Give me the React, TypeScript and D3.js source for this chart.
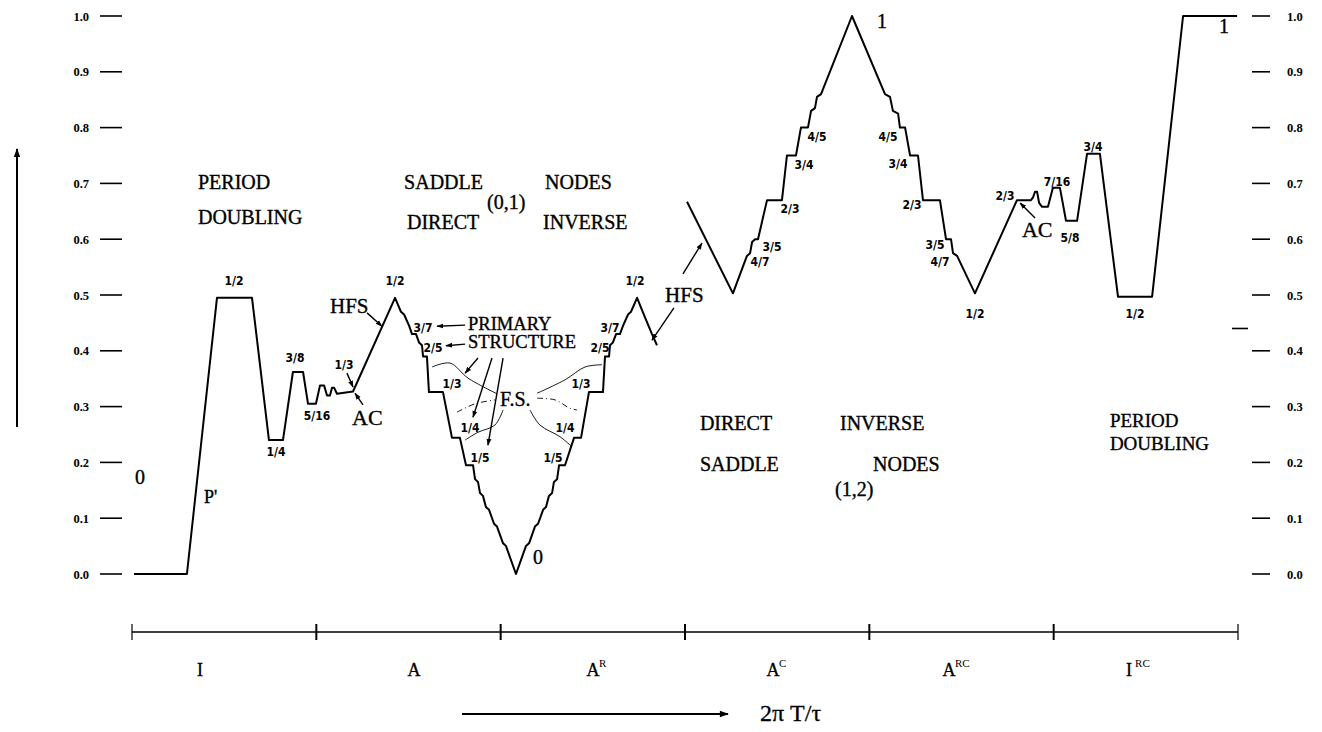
import React from "react";
import * as d3 from "d3";

const W = 1322;
const H = 732;

// Horizontal parameter: 6 regions, 100 units each
const regionBounds = [0, 100, 200, 300, 400, 500, 600];
const regionBase = ["I", "A", "A", "A", "A", "I"];
const regionSup = ["", "", "R", "C", "RC", "RC"];
const regionLabelU = [36.9, 153.0, 250.1, 347.7, 443.2, 540.9];

const yTicks = [0, 0.1, 0.2, 0.3, 0.4, 0.5, 0.6, 0.7, 0.8, 0.9, 1.0];
const yTickLabels = ["0.0", "0.1", "0.2", "0.3", "0.4", "0.5", "0.6", "0.7", "0.8", "0.9", "1.0"];
const extraRightTick = 0.44;

// Curve piece 1: I, A, A^R
const curve1U = [1.1, 29.8, 46.1, 65.1, 74.3, 81.9, 87.3, 92.8, 95.5, 99.8, 102.0, 104.2, 105.8, 107.4, 108.5, 109.6, 111.2, 119.9,
  142.7, 145.9, 147.6, 150.3, 151.9, 154.1, 155.7, 157.3, 157.9, 160.0, 161.1, 168.7, 173.6, 177.9, 181.2, 185.0,
  186.1, 187.7, 188.8, 190.4, 192.0, 193.7, 196.4, 198.0, 201.3, 202.9, 208.3,
  213.7, 215.4, 218.6, 220.3, 223.0, 224.6, 226.2, 227.9, 228.9, 230.6, 231.7, 234.9, 239.8, 243.6, 247.9, 255.5,
  256.6, 258.8, 259.3, 260.9, 262.6, 264.7, 266.4, 269.1, 270.7, 274.0, 278.3, 282.1, 284.8];
const curve1V = [0, 0, 0.495, 0.495, 0.24, 0.24, 0.362, 0.362, 0.305, 0.305, 0.338, 0.338, 0.32, 0.32, 0.334, 0.334, 0.323, 0.327,
  0.495, 0.47, 0.465, 0.445, 0.43, 0.43, 0.415, 0.41, 0.39, 0.39, 0.326, 0.326, 0.244, 0.244, 0.195, 0.195,
  0.17, 0.165, 0.145, 0.14, 0.12, 0.115, 0.09, 0.085, 0.055, 0.05, 0.0,
  0.05, 0.055, 0.085, 0.09, 0.115, 0.12, 0.14, 0.145, 0.165, 0.17, 0.195, 0.195, 0.244, 0.244, 0.326, 0.326,
  0.39, 0.39, 0.41, 0.415, 0.43, 0.43, 0.445, 0.465, 0.47, 0.495, 0.46, 0.43, 0.41];

// Curve piece 2: A^C, A^RC, I^RC
const curve2U = [301.1, 326.0, 333.6, 335.3, 336.4, 338.0, 339.6, 344.5, 352.6, 355.3, 360.2, 362.9, 366.7, 368.4, 370.5, 371.6, 373.8,
  390.6, 408.5, 411.2, 412.8, 415.6, 416.6, 419.4, 422.1, 426.4, 429.1, 438.3, 441.6, 444.3, 445.4, 447.6, 457.3,
  480.1, 487.7, 488.8, 489.9, 491.0, 492.1, 493.7, 496.9, 499.6, 503.4, 506.7, 512.7, 518.1, 525.1, 534.9, 553.4, 570.2, 599.5];
const curve2V = [0.667, 0.503, 0.57, 0.575, 0.595, 0.6, 0.6, 0.67, 0.67, 0.75, 0.75, 0.8, 0.8, 0.83, 0.835, 0.855, 0.86,
  1.0, 0.86, 0.855, 0.83, 0.825, 0.8, 0.8, 0.75, 0.75, 0.67, 0.67, 0.6, 0.6, 0.575, 0.57, 0.503,
  0.67, 0.67, 0.675, 0.685, 0.685, 0.665, 0.658, 0.658, 0.692, 0.692, 0.633, 0.633, 0.753, 0.753, 0.497, 0.497, 1.0, 1.0];

// Small fraction labels
const fracText = ["1/2", "1/4", "3/8", "5/16", "1/3", "1/2", "3/7", "2/5", "1/3", "1/4", "1/5", "1/5", "1/4", "1/3", "2/5", "3/7", "1/2",
  "4/7", "3/5", "2/3", "3/4", "4/5", "4/5", "3/4", "2/3", "3/5", "4/7", "1/2", "2/3", "7/16", "5/8", "3/4", "1/2"];
const fracU = [55.3, 78.1, 88.4, 100.4, 115.0, 142.7, 157.9, 163.3, 173.6, 183.4, 188.8, 228.4, 234.9, 243.6, 253.9, 259.3, 272.9,
  340.7, 347.2, 357.0, 364.6, 371.6, 410.1, 415.6, 423.2, 435.6, 438.3, 457.3, 473.6, 501.8, 508.9, 521.3, 544.1];
const fracV = [0.518, 0.211, 0.380, 0.276, 0.367, 0.518, 0.434, 0.398, 0.333, 0.254, 0.201, 0.201, 0.254, 0.333, 0.398, 0.434, 0.518,
  0.552, 0.579, 0.647, 0.726, 0.776, 0.776, 0.728, 0.655, 0.582, 0.552, 0.459, 0.670, 0.695, 0.595, 0.758, 0.459];

// Large serif labels (start-anchored)
const bigText = ["0", "P'", "HFS", "AC", "0", "HFS", "1", "AC", "1", "F.S.", "PRIMARY", "STRUCTURE"];
const bigU = [1.6, 39.1, 107.4, 119.4, 217.5, 289.2, 404.2, 482.8, 589.7, 199.6, 182.3, 182.3];
const bigV = [0.161, 0.127, 0.468, 0.267, 0.018, 0.487, 0.978, 0.604, 0.970, 0.301, 0.437, 0.405];
const bigSize = [20, 18, 21, 22, 20, 21, 20, 22, 20, 20, 18.5, 18.5];

// Region captions (start-anchored)
const capText = ["PERIOD", "DOUBLING", "SADDLE", "(0,1)", "NODES", "DIRECT", "INVERSE",
  "DIRECT", "INVERSE", "SADDLE", "(1,2)", "NODES", "PERIOD", "DOUBLING"];
const capU = [35.8, 35.8, 147.6, 192.6, 224.1, 149.2, 223.0, 308.1, 384.1, 308.1, 381.4, 402.0, 530.5, 530.5];
const capV = [0.690, 0.627, 0.690, 0.654, 0.690, 0.618, 0.618, 0.258, 0.258, 0.185, 0.140, 0.185, 0.264, 0.222];
const capSize = [20, 20, 20, 20, 20, 20, 20, 20, 20, 20, 20, 20, 19, 19];

// Arrows: from (u,v) to (u,v)
const arrowFromU = [127.5, 116.6, 125.3, 180.7, 180.7, 187.7, 195.3, 201.3, 298.9, 294.0, 489.9];
const arrowFromV = [0.468, 0.360, 0.303, 0.446, 0.412, 0.387, 0.387, 0.387, 0.538, 0.477, 0.638];
const arrowToU = [135.6, 119.9, 121.0, 165.5, 170.3, 180.7, 185.0, 193.1, 309.2, 282.1, 481.8];
const arrowToV = [0.444, 0.335, 0.324, 0.444, 0.409, 0.360, 0.281, 0.231, 0.593, 0.419, 0.665];

// F.S. thin curves
const fsCurvesU = [
  [162.8, 172.5, 182.3, 198.0],
  [176.3, 186.1, 196.9],
  [201.3, 196.9, 187.7, 180.7],
  [255.0, 245.8, 234.9, 219.8],
  [219.8, 229.5, 237.6, 241.4],
  [215.9, 221.3, 232.2, 238.7],
];
const fsCurvesV = [
  [0.371, 0.378, 0.351, 0.323],
  [0.290, 0.305, 0.312],
  [0.294, 0.267, 0.254, 0.240],
  [0.375, 0.371, 0.348, 0.324],
  [0.315, 0.312, 0.297, 0.294],
  [0.294, 0.267, 0.246, 0.228],
];
const fsDashed = [false, true, false, false, true, false];

const SERIF = "'Liberation Serif', 'Times New Roman', serif";
const NARROW = "'Liberation Sans Narrow', 'DejaVu Sans Condensed', 'Arial Narrow', sans-serif";

export default function App() {
  const x = d3.scaleLinear().domain([0, 600]).range([132, 1238]);
  const y = d3.scaleLinear().domain([0, 1]).range([574, 16]);

  const line = d3.line<[number, number]>().x((d) => x(d[0])).y((d) => y(d[1]));
  const smooth = d3.line<[number, number]>().x((d) => x(d[0])).y((d) => y(d[1])).curve(d3.curveCatmullRom.alpha(0.5));

  const p1 = line(curve1U.map((u, i) => [u, curve1V[i]]) as [number, number][]) || "";
  const p2 = line(curve2U.map((u, i) => [u, curve2V[i]]) as [number, number][]) || "";

  const axisY = 632;
  const labelY = 676;
  const arrowY = 714;

  return (
    <svg width={W} height={H} style={{ position: "absolute", left: 0, top: 0, display: "block", background: "#fff" }}>
      <defs>
        <marker id="ah" viewBox="0 0 10 10" refX="9" refY="5" markerWidth="7" markerHeight="7" orient="auto-start-reverse" markerUnits="userSpaceOnUse">
          <path d="M0,1.5 L10,5 L0,8.5 Z" fill="#000" />
        </marker>
        <marker id="ahBig" viewBox="0 0 10 10" refX="9" refY="5" markerWidth="11" markerHeight="9" orient="auto" markerUnits="userSpaceOnUse">
          <path d="M0,1.5 L10,5 L0,8.5 Z" fill="#000" />
        </marker>
      </defs>
      <rect width={W} height={H} fill="#fff" />

      {/* left vertical arrow */}
      <line x1={17} y1={427} x2={17} y2={149} stroke="#000" strokeWidth={2} markerEnd="url(#ahBig)" />

      {/* y ticks left & right */}
      {yTicks.map((t, i) => (
        <g key={"yt" + i}>
          <line x1={100} x2={122} y1={y(t)} y2={y(t)} stroke="#000" strokeWidth={1.6} />
          <text x={89} y={y(t) + 4.5} textAnchor="end" fontFamily={SERIF} fontWeight="bold" fontSize={12.5}>{yTickLabels[i]}</text>
          <line x1={1252} x2={1270} y1={y(t)} y2={y(t)} stroke="#000" strokeWidth={1.6} />
          <text x={1287} y={y(t) + 4.5} textAnchor="start" fontFamily={SERIF} fontWeight="bold" fontSize={12.5}>{yTickLabels[i]}</text>
        </g>
      ))}
      <line x1={1232} x2={1248} y1={y(extraRightTick)} y2={y(extraRightTick)} stroke="#000" strokeWidth={1.6} />

      {/* main curves */}
      <path d={p1} fill="none" stroke="#000" strokeWidth={2} strokeLinejoin="round" />
      <path d={p2} fill="none" stroke="#000" strokeWidth={2} strokeLinejoin="round" />

      {/* F.S. thin curves */}
      {fsCurvesU.map((us, i) => (
        <path key={"fs" + i}
          d={smooth(us.map((u, j) => [u, fsCurvesV[i][j]]) as [number, number][]) || ""}
          fill="none" stroke="#000" strokeWidth={0.9} strokeDasharray={fsDashed[i] ? "6 3 1 3" : undefined} />
      ))}

      {/* arrows */}
      {arrowFromU.map((u, i) => (
        <line key={"ar" + i} x1={x(u)} y1={y(arrowFromV[i])} x2={x(arrowToU[i])} y2={y(arrowToV[i])}
          stroke="#000" strokeWidth={1.4} markerEnd="url(#ah)" />
      ))}

      {/* fraction labels */}
      {fracText.map((t, i) => (
        <text key={"fr" + i} x={x(fracU[i])} y={y(fracV[i])} textAnchor="middle" fontFamily={NARROW} fontWeight="bold" fontSize={12}>{t}</text>
      ))}

      {/* big labels */}
      {bigText.map((t, i) => (
        <text key={"bg" + i} x={x(bigU[i])} y={y(bigV[i])} fontFamily={SERIF} fontSize={bigSize[i]} stroke="#000" strokeWidth={0.35}>{t}</text>
      ))}

      {/* captions */}
      {capText.map((t, i) => (
        <text key={"cp" + i} x={x(capU[i])} y={y(capV[i])} fontFamily={SERIF} fontSize={capSize[i]} stroke="#000" strokeWidth={0.35}>{t}</text>
      ))}

      {/* bottom region axis */}
      <line x1={x(0)} x2={x(600)} y1={axisY} y2={axisY} stroke="#000" strokeWidth={1.6} />
      {regionBounds.map((b, i) => (
        <line key={"rb" + i} x1={x(b)} x2={x(b)} y1={axisY - 8} y2={axisY + 8} stroke="#000" strokeWidth={i === 0 || i === 6 ? 1.2 : 2} />
      ))}
      {regionBase.map((b, i) => (
        <g key={"rl" + i}>
          <text x={x(regionLabelU[i])} y={labelY} textAnchor="middle" fontFamily={SERIF} fontSize={18} stroke="#000" strokeWidth={0.3}>{b}</text>
          {regionSup[i] && (
            <text x={x(regionLabelU[i]) + 6} y={labelY - 9} fontFamily={SERIF} fontSize={11}>{regionSup[i]}</text>
          )}
        </g>
      ))}

      {/* horizontal arrow and label */}
      <line x1={462} x2={728} y1={arrowY} y2={arrowY} stroke="#000" strokeWidth={2} markerEnd="url(#ahBig)" />
      <text x={760} y={arrowY + 7} fontFamily={SERIF} fontSize={24} stroke="#000" strokeWidth={0.3}>2π T/τ</text>
    </svg>
  );
}
